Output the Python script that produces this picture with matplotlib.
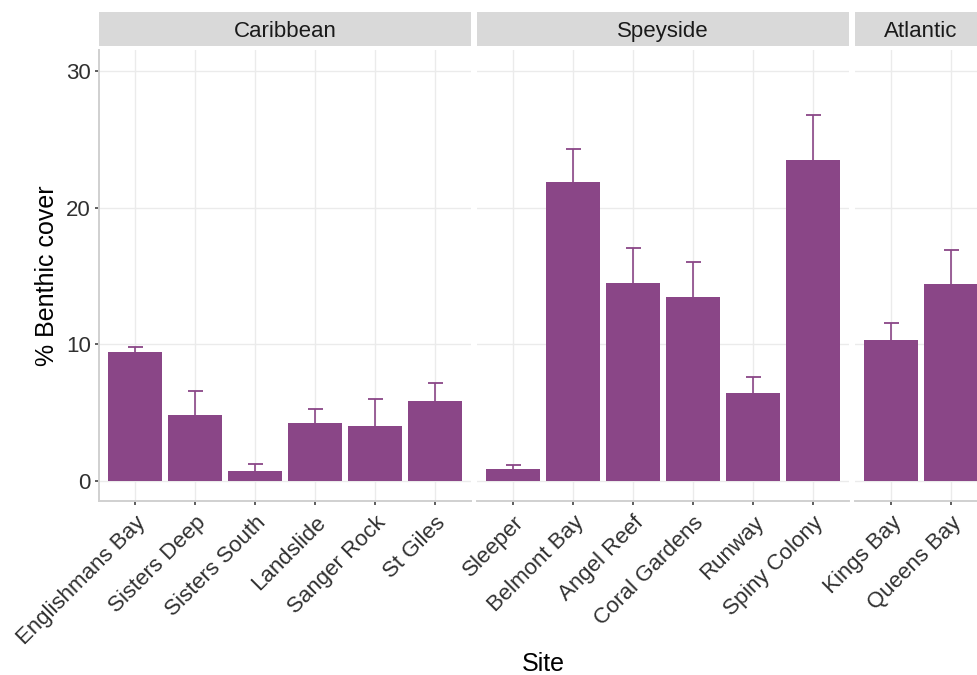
#!/usr/bin/env python3
"""
Bar chart of mean benthic cover per site, faceted by region, with
standard-error bars (upper only).
"""

import matplotlib
matplotlib.use("Agg")
import matplotlib.pyplot as plt

plt.rcParams['font.family'] = ['Liberation Sans', 'DejaVu Sans']

# Mean % cover and standard error per site
sites_caribbean = ["Englishmans Bay", "Sisters Deep", "Sisters South",
                   "Landslide", "Sanger Rock", "St Giles"]
cover_caribbean = [9.47, 4.84, 0.73, 4.25, 4.03, 5.88]
se_caribbean = [0.35, 1.75, 0.54, 1.0, 1.95, 1.28]

sites_speyside = ["Sleeper", "Belmont Bay", "Angel Reef",
                  "Coral Gardens", "Runway", "Spiny Colony"]
cover_speyside = [0.88, 21.9, 14.5, 13.5, 6.42, 23.5]
se_speyside = [0.3, 2.4, 2.6, 2.55, 1.17, 3.3]

sites_atlantic = ["Kings Bay", "Queens Bay"]
cover_atlantic = [10.35, 14.45]
se_atlantic = [1.2, 2.45]

regions = ["Caribbean", "Speyside", "Atlantic"]

BAR_COLOUR = '#8A4687'
TEXT_COLOUR = '#303030'
W, H = 977, 675


def fig_box(x0, y0, x1, y1):
    """Pixel box (top-left origin) -> figure-fraction rect."""
    return [x0 / W, 1 - y1 / H, (x1 - x0) / W, (y1 - y0) / H]


def draw_panel(fig, rect, sites, cover, se, first):
    ax = fig.add_axes(rect)
    x = list(range(len(sites)))
    ax.set_xlim(-0.6, len(sites) - 1 + 0.6)
    ax.set_ylim(-1.465, 31.57)
    ax.grid(True, color='#EBEBEB', linewidth=1.0, zorder=0)
    ax.set_axisbelow(True)
    ax.bar(x, cover, width=0.9, color=BAR_COLOUR, zorder=2)
    eb = ax.errorbar(x, cover, yerr=[[0] * len(se), se], fmt='none',
                     ecolor=BAR_COLOUR, elinewidth=1.2, capsize=5.4,
                     capthick=1.3, zorder=3)
    # only the upper whisker is wanted; hide the cap sitting on the bar top
    eb[1][0].set_visible(False)

    for side in ('top', 'right'):
        ax.spines[side].set_visible(False)
    ax.spines['bottom'].set_color('#D0D0D0')
    ax.spines['bottom'].set_linewidth(1.4)
    ax.spines['left'].set_color('#D0D0D0')
    ax.spines['left'].set_linewidth(1.4)
    ax.spines['left'].set_visible(first)

    ax.set_xticks(x)
    ax.set_xticklabels(sites, rotation=45, ha='right', va='top',
                       rotation_mode='anchor', fontsize=16,
                       color=TEXT_COLOUR)
    ax.tick_params(axis='x', length=3, width=1.1, color='#333333', pad=5)
    ax.set_yticks([0, 10, 20, 30])
    if first:
        ax.tick_params(axis='y', length=3, width=1.1, color='#333333',
                       pad=3, labelsize=16, labelcolor=TEXT_COLOUR)
    else:
        ax.tick_params(axis='y', length=0, labelleft=False)
    return ax


def draw_strip(fig, x0, x1, label):
    sax = fig.add_axes(fig_box(x0, 12, x1, 46))
    sax.set_facecolor('#D9D9D9')
    sax.set_xticks([])
    sax.set_yticks([])
    for s in sax.spines.values():
        s.set_visible(False)
    sax.text(0.5, 9 / 34, label, ha='center', va='baseline', fontsize=16,
             color='#1A1A1A', transform=sax.transAxes)


fig = plt.figure(figsize=(W / 100, H / 100), dpi=100)

# panel widths are proportional to the number of sites
panels = [
    (99, 471, sites_caribbean, cover_caribbean, se_caribbean),
    (477, 849, sites_speyside, cover_speyside, se_speyside),
    (855, 987, sites_atlantic, cover_atlantic, se_atlantic),
]
for i, (x0, x1, sites, cover, se) in enumerate(panels):
    draw_panel(fig, fig_box(x0, 50, x1, 501), sites, cover, se, i == 0)
    draw_strip(fig, x0, x1, regions[i])

fig.text(543 / W, 1 - 671 / H, "Site", ha='center', va='baseline',
         fontsize=18, color='black')
fig.text(47 / W, 1 - 275.5 / H, "% Benthic cover", ha='center',
         va='center', rotation=90, fontsize=18, color='black')

fig.savefig('out.png', dpi=100)
